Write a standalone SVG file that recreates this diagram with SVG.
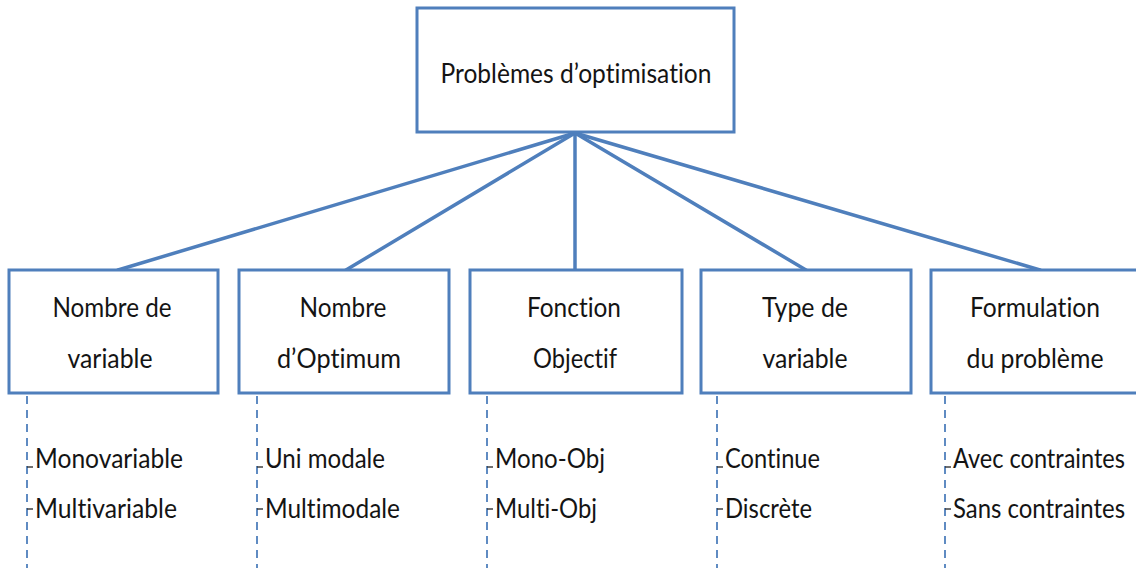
<svg xmlns="http://www.w3.org/2000/svg" width="1136" height="568" viewBox="0 0 1136 568">
  <style>
    .box { fill: #ffffff; stroke: #4f7fbc; stroke-width: 3; }
    .link { stroke: #4f7fbc; stroke-width: 3.5; fill: none; stroke-linecap: round; }
    .dash { stroke: #4f7fbc; stroke-width: 1.8; stroke-dasharray: 8 6; fill: none; }
    .tick { stroke: #333333; stroke-width: 1.4; }
    text { font-family: Lato, "Open Sans", "Liberation Sans", sans-serif; font-size: 27px; fill: #141414; font-variant-ligatures: none; }
    .c { text-anchor: middle; }
  </style>
  <rect width="1136" height="568" fill="#ffffff"/>

  <!-- connectors from the root to each category -->
  <g id="connectors">
    <line class="link" x1="575" y1="133" x2="118" y2="270"/>
    <line class="link" x1="575" y1="133" x2="346" y2="270"/>
    <line class="link" x1="575" y1="133" x2="575" y2="270"/>
    <line class="link" x1="575" y1="133" x2="806" y2="270"/>
    <line class="link" x1="575" y1="133" x2="1040" y2="270"/>
    <!-- dashed list rails below each category -->
    <line class="dash" x1="27" y1="396" x2="27" y2="568"/>
    <line class="dash" x1="257" y1="396" x2="257" y2="568"/>
    <line class="dash" x1="487" y1="396" x2="487" y2="568"/>
    <line class="dash" x1="717" y1="396" x2="717" y2="568"/>
    <line class="dash" x1="945" y1="396" x2="945" y2="568"/>
    <!-- item ticks -->
    <line class="tick" x1="27" y1="467" x2="33" y2="467"/>
    <line class="tick" x1="27" y1="509" x2="33" y2="509"/>
    <line class="tick" x1="257" y1="467" x2="263" y2="467"/>
    <line class="tick" x1="257" y1="509" x2="263" y2="509"/>
    <line class="tick" x1="487" y1="467" x2="493" y2="467"/>
    <line class="tick" x1="487" y1="509" x2="493" y2="509"/>
    <line class="tick" x1="717" y1="467" x2="723" y2="467"/>
    <line class="tick" x1="717" y1="509" x2="723" y2="509"/>
    <line class="tick" x1="945" y1="467" x2="951" y2="467"/>
    <line class="tick" x1="945" y1="509" x2="951" y2="509"/>
  </g>

  <g id="root">
    <rect class="box" x="417" y="8" width="317" height="124"/>
    <text class="c" x="576" y="83" textLength="271" lengthAdjust="spacingAndGlyphs">Problèmes d’optimisation</text>
  </g>

  <g id="nombre-variable">
    <rect class="box" x="9" y="270" width="209" height="123"/>
    <text class="c" x="112" y="317" textLength="119" lengthAdjust="spacingAndGlyphs">Nombre de</text>
    <text class="c" x="110" y="368" textLength="85" lengthAdjust="spacingAndGlyphs">variable</text>
    <text x="35" y="468" textLength="148" lengthAdjust="spacingAndGlyphs">Monovariable</text>
    <text x="35" y="518" textLength="142" lengthAdjust="spacingAndGlyphs">Multivariable</text>
  </g>

  <g id="nombre-optimum">
    <rect class="box" x="239" y="270" width="210" height="123"/>
    <text class="c" x="343" y="317" textLength="87" lengthAdjust="spacingAndGlyphs">Nombre</text>
    <text class="c" x="339" y="368" textLength="124" lengthAdjust="spacingAndGlyphs">d’Optimum</text>
    <text x="265" y="468" textLength="120" lengthAdjust="spacingAndGlyphs">Uni modale</text>
    <text x="265" y="518" textLength="135" lengthAdjust="spacingAndGlyphs">Multimodale</text>
  </g>

  <g id="fonction-objectif">
    <rect class="box" x="470" y="270" width="212" height="123"/>
    <text class="c" x="574" y="317" textLength="94" lengthAdjust="spacingAndGlyphs">Fonction</text>
    <text class="c" x="575" y="368" textLength="84" lengthAdjust="spacingAndGlyphs">Objectif</text>
    <text x="495" y="468" textLength="110" lengthAdjust="spacingAndGlyphs">Mono-Obj</text>
    <text x="495" y="518" textLength="102" lengthAdjust="spacingAndGlyphs">Multi-Obj</text>
  </g>

  <g id="type-variable">
    <rect class="box" x="701" y="270" width="210" height="123"/>
    <text class="c" x="805" y="317" textLength="86" lengthAdjust="spacingAndGlyphs">Type de</text>
    <text class="c" x="805" y="368" textLength="85" lengthAdjust="spacingAndGlyphs">variable</text>
    <text x="725" y="468" textLength="95" lengthAdjust="spacingAndGlyphs">Continue</text>
    <text x="725" y="518" textLength="87" lengthAdjust="spacingAndGlyphs">Discrète</text>
  </g>

  <g id="formulation">
    <rect class="box" x="931" y="270" width="212" height="123"/>
    <text class="c" x="1035" y="317" textLength="130" lengthAdjust="spacingAndGlyphs">Formulation</text>
    <text class="c" x="1035" y="368" textLength="137" lengthAdjust="spacingAndGlyphs">du problème</text>
    <text x="953" y="468" textLength="172" lengthAdjust="spacingAndGlyphs">Avec contraintes</text>
    <text x="953" y="518" textLength="172" lengthAdjust="spacingAndGlyphs">Sans contraintes</text>
  </g>
</svg>
